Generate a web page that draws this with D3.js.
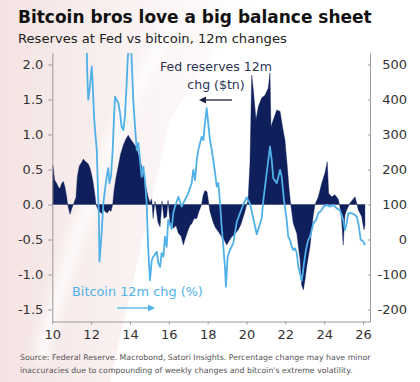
<!DOCTYPE html>
<html><head><meta charset="utf-8">
<script src="https://cdn.jsdelivr.net/npm/d3@7/dist/d3.min.js"></script>
<style>body{margin:0;background:#fff}svg{display:block}</style>
</head><body>
<svg id="c" width="420" height="382"></svg>
<script>
const fedYears = [2010.00,2010.03,2010.08,2010.12,2010.23,2010.31,2010.40,2010.48,2010.57,2010.65,2010.74,2010.79,2010.86,2010.91,2011.00,2011.08,2011.22,2011.29,2011.39,2011.51,2011.60,2011.68,2011.77,2011.85,2011.94,2012.03,2012.11,2012.20,2012.25,2012.32,2012.42,2012.54,2012.63,2012.71,2012.83,2012.94,2013.02,2013.11,2013.18,2013.28,2013.40,2013.52,2013.66,2013.80,2013.91,2014.04,2014.17,2014.31,2014.43,2014.52,2014.60,2014.69,2014.77,2014.86,2014.94,2015.03,
2015.12,2015.19,2015.29,2015.44,2015.55,2015.65,2015.75,2015.89,2015.96,2016.06,2016.23,2016.37,2016.49,2016.63,2016.75,2016.83,2017.00,2017.09,2017.19,2017.30,2017.44,2017.55,2017.69,2017.76,2017.86,2017.97,2018.04,2018.12,2018.28,2018.38,2018.53,2018.72,2018.84,2018.98,2019.10,2019.24,2019.41,2019.58,2019.72,2019.84,2019.92,2020.01,
2020.08,2020.18,2020.27,2020.35,2020.49,2020.61,2020.78,2020.95,2021.12,2021.21,2021.26,2021.38,2021.56,2021.73,2021.86,2021.98,2022.10,2022.20,2022.28,
2022.41,2022.59,2022.67,2022.76,2022.84,2022.93,2023.01,2023.10,2023.18,2023.27,2023.36,2023.44,2023.53,2023.70,2023.87,2024.04,2024.16,2024.23,2024.39,2024.56,2024.73,2024.81,2024.90,2024.98,2025.07,2025.16,2025.33,2025.50,2025.59,2025.76,2025.93,2026.05,2026.10];
const fedValues = [0.30,0.56,0.45,0.35,0.30,0.25,0.23,0.30,0.33,0.25,0.11,0.00,-0.08,-0.14,-0.06,0.00,0.10,0.40,0.55,0.60,0.65,0.62,0.60,0.58,0.52,0.42,0.30,0.12,0.00,-0.05,-0.10,-0.13,-0.05,-0.10,-0.12,-0.08,-0.10,0.00,0.20,0.38,0.55,0.72,0.85,0.94,0.99,0.93,0.88,0.82,0.72,0.62,0.55,0.45,0.32,0.20,0.10,0.03,
0.08,-0.20,0.05,-0.25,-0.32,0.05,-0.20,-0.17,0.06,-0.25,-0.34,-0.30,-0.41,-0.45,-0.58,-0.50,-0.36,-0.30,-0.27,-0.20,-0.20,-0.10,0.00,0.12,0.20,0.18,0.05,-0.10,-0.25,-0.32,-0.38,-0.46,-0.50,-0.58,-0.52,-0.46,-0.42,-0.36,-0.28,-0.17,-0.10,0.00,
0.05,0.60,1.85,1.64,1.21,1.40,1.52,1.56,1.66,1.88,1.11,1.21,1.35,1.33,1.10,0.92,0.54,0.20,0.00,
-0.27,-0.41,-0.60,-0.79,-1.15,-1.22,-1.08,-0.89,-0.75,-0.60,-0.35,-0.15,0.00,0.11,0.30,0.45,0.61,0.16,0.11,0.14,0.07,-0.03,-0.22,-0.58,-0.15,-0.08,0.02,0.08,0.11,-0.08,-0.17,-0.36,-0.30];

const btcYears = [2011.77,2011.80,2011.85,2011.94,2012.03,2012.08,2012.15,2012.20,2012.29,2012.34,2012.40,2012.43,2012.54,2012.63,2012.71,2012.80,2012.88,2012.94,2013.02,2013.11,2013.18,2013.23,2013.32,2013.40,2013.49,2013.57,2013.66,2013.74,2013.83,2013.88,2013.95,2014.05,2014.10,2014.17,2014.26,2014.35,2014.43,2014.52,2014.60,2014.69,2014.77,2014.86,2014.91,2014.96,2015.03,2015.12,2015.20,2015.38,2015.46,2015.55,2015.63,2015.72,2015.80,2015.89,2015.97,2016.15,2016.23,2016.32,2016.49,2016.66,2016.83,2017.00,2017.18,2017.26,2017.35,2017.44,2017.52,2017.69,2017.78,2017.86,2017.95,2018.03,2018.12,2018.21,2018.29,2018.38,2018.47,2018.55,2018.64,2018.72,2018.81,2018.89,2018.94,2019.03,2019.15,2019.32,2019.50,2019.67,2019.84,2020.01,2020.18,2020.35,2020.53,2020.61,2020.78,2020.87,2021.04,2021.21,2021.30,2021.38,2021.56,2021.73,2021.81,2021.93,2022.07,2022.15,2022.24,2022.33,2022.41,2022.50,2022.59,2022.67,2022.76,2022.84,2022.89,2022.96,2023.06,2023.18,2023.27,2023.36,2023.44,2023.58,2023.70,2023.87,2023.96,2024.13,2024.30,2024.47,2024.65,2024.81,2024.98,2025.07,2025.16,2025.24,2025.42,2025.59,2025.68,2025.79,2025.88,2026.02,2026.10];
const btcValues = [560,476,399,437,494,447,351,313,256,161,65,-63,18,104,141,179,204,161,179,256,351,408,399,390,361,322,313,351,446,513,560,560,494,399,322,256,276,227,179,208,170,104,18,-49,-116,-60,-49,-35,-67,-78,-39,-49,8,-21,56,30,76,94,122,94,113,132,161,199,170,227,256,294,284,332,375,332,284,256,227,190,151,161,104,37,-21,-78,-135,-49,-30,-10,50,76,100,120,103,60,15,30,60,113,190,265,227,175,161,199,180,113,56,8,-1,-21,-30,-25,-39,-78,-97,-118,-100,-68,-30,-1,8,27,46,56,75,84,94,99,94,99,89,84,56,27,47,75,75,70,65,37,-1,-6,-16];

const xTickValues = [2010,2012,2014,2016,2018,2020,2022,2024,2026];
const xTickLabels = ["10","12","14","16","18","20","22","24","26"];
const leftTicks = [2.0,1.5,1.0,0.5,0.0,-0.5,-1.0,-1.5];
const rightTicks = [500,400,300,200,100,0,-100,-200];

const NAVY = "#0e1f5b", BLUE = "#4fb1e8", AXIS = "#9a9a9a", TXT = "#333";
const FONT = "DejaVu Sans, Verdana, sans-serif";

const svg = d3.select("#c");

// faint watermark in background
const defs = svg.append("defs");
const g1 = defs.append("linearGradient").attr("id","wm").attr("x1","0").attr("x2","1").attr("y1","0").attr("y2","0");
g1.append("stop").attr("offset","0").attr("stop-color","#eccccc").attr("stop-opacity",0.55);
g1.append("stop").attr("offset","1").attr("stop-color","#eccccc").attr("stop-opacity",0);
defs.append("filter").attr("id","bl").append("feGaussianBlur").attr("stdDeviation",6);
svg.append("path").attr("d","M0,0 L250,0 L170,120 L110,382 L0,382 Z").attr("fill","url(#wm)");
svg.append("path").attr("d","M40,360 C70,250 110,130 175,20").attr("stroke","#fff").attr("stroke-width",14)
  .attr("fill","none").attr("opacity",0.8).attr("filter","url(#bl)");

const x = d3.scaleLinear().domain([2010, 2026.36]).range([52.3, 370]);
const yL = d3.scaleLinear().domain([-1.671, 2.164]).range([321.5, 53]);
const yR = d3.scaleLinear().domain([-234.2, 532.8]).range([321.5, 53]);

svg.append("clipPath").attr("id","plot").append("rect").attr("x",52.3).attr("y",53).attr("width",317.7).attr("height",268.5);

const fed = fedYears.map((t,i)=>({t, v: fedValues[i]}));
const btc = btcYears.map((t,i)=>({t, v: btcValues[i]}));

const plot = svg.append("g").attr("clip-path","url(#plot)");
plot.append("path").datum(fed)
  .attr("d", d3.area().x(d=>x(d.t)).y0(yL(0)).y1(d=>yL(d.v)))
  .attr("fill", NAVY).attr("stroke", NAVY).attr("stroke-width",0.4);
plot.append("path").datum(btc)
  .attr("d", d3.line().x(d=>x(d.t)).y(d=>yR(d.v)))
  .attr("fill","none").attr("stroke", BLUE).attr("stroke-width",1.8).attr("stroke-linejoin","round");

function styleAxis(g){
  g.select(".domain").attr("stroke", AXIS);
  g.selectAll(".tick line").attr("stroke", AXIS);
  g.selectAll(".tick text").attr("fill", TXT).attr("font-family", FONT).attr("font-size", 13);
}
const ax = svg.append("g").attr("transform","translate(0,321.5)")
  .call(d3.axisBottom(x).tickValues(xTickValues).tickFormat((d,i)=>xTickLabels[i]).tickSize(3).tickSizeOuter(0).tickPadding(5));
styleAxis(ax);
const al = svg.append("g").attr("transform","translate(52.3,0)")
  .call(d3.axisLeft(yL).tickValues(leftTicks).tickFormat(d=>d.toFixed(1)).tickSize(4).tickSizeOuter(0).tickPadding(5));
styleAxis(al);
const ar = svg.append("g").attr("transform","translate(370,0)")
  .call(d3.axisRight(yR).tickValues(rightTicks).tickFormat(d=>String(d)).tickSize(-2).tickSizeOuter(0).tickPadding(9));
styleAxis(ar);
ar.selectAll(".tick text").attr("text-anchor","end").attr("x", 37);

function fit(sel, w){ const len = sel.node().getComputedTextLength(); const fs = parseFloat(sel.attr("font-size")); sel.attr("font-size", fs*w/len); return sel; }

fit(svg.append("text").attr("x",18).attr("y",23).attr("font-family",FONT).attr("font-weight","bold").attr("font-size",18).attr("fill","#111")
  .text("Bitcoin bros love a big balance sheet"), 354);
fit(svg.append("text").attr("x",18).attr("y",43).attr("font-family",FONT).attr("font-size",14).attr("fill","#222")
  .text("Reserves at Fed vs bitcoin, 12m changes"), 269);

const a1 = fit(svg.append("text").attr("x",216).attr("y",71).attr("text-anchor","middle").attr("font-family",FONT).attr("font-size",14).attr("fill","#2b3553")
  .text("Fed reserves 12m"), 112);
svg.append("text").attr("x",216).attr("y",89).attr("text-anchor","middle").attr("font-family",FONT).attr("font-size",a1.attr("font-size")).attr("fill","#2b3553")
  .text("chg ($tn)");
svg.append("line").attr("x1",232).attr("x2",204).attr("y1",100).attr("y2",100).attr("stroke","#1b2540").attr("stroke-width",1.3);
svg.append("path").attr("d","M199,100 L206,96.5 L206,103.5 Z").attr("fill","#1b2540");

fit(svg.append("text").attr("x",72).attr("y",296).attr("font-family",FONT).attr("font-size",14).attr("fill",BLUE)
  .text("Bitcoin 12m chg (%)"), 131);
svg.append("line").attr("x1",117).attr("x2",149).attr("y1",308).attr("y2",308).attr("stroke",BLUE).attr("stroke-width",1.3);
svg.append("path").attr("d","M155,308 L148,304.5 L148,311.5 Z").attr("fill",BLUE);

const s1 = fit(svg.append("text").attr("x",20).attr("y",360).attr("font-family",FONT).attr("font-size",10).attr("fill","#555")
  .text("Source: Federal Reserve. Macrobond, Satori Insights. Percentage change may have minor"), 351);
svg.append("text").attr("x",20).attr("y",373).attr("font-family",FONT).attr("font-size",s1.attr("font-size")).attr("fill","#555")
  .text("inaccuracies due to compounding of weekly changes and bitcoin's extreme volatility.");
</script>
</body></html>
